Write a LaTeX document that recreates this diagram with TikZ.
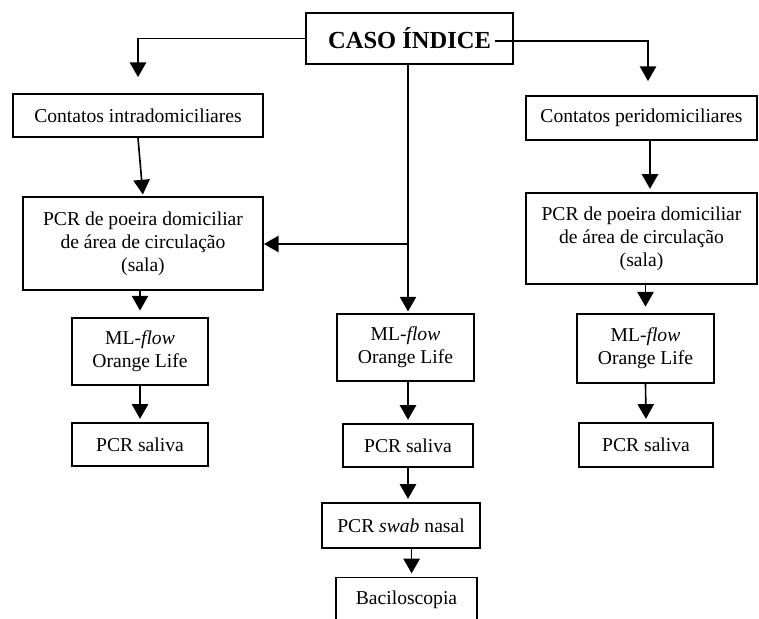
\documentclass[tikz,border=0pt]{standalone}
\usepackage{fontspec}
\setmainfont{Liberation Serif}
\usetikzlibrary{arrows.meta}

\tikzset{
  caixa/.style 2 args={draw, line width=1.1pt, align=center, inner sep=0pt,
    minimum width=#1, minimum height=#2, font=\fontsize{12}{14}\selectfont},
  seta/.style={line width=1pt, -{Triangle[width=10pt,length=9pt]}},
}

\begin{document}
\begin{tikzpicture}[x=0.612pt, y=-0.612pt]
\useasboundingbox (0,0) rectangle (759,619);
\clip (0,0) rectangle (759,619);

\node[caixa={126.7pt}{31.2pt}, font=\fontsize{15}{17}\selectfont\bfseries] (caso) at (409.5,38.5) {CASO ÍNDICE};

% intradomiciliares
\node[caixa={153pt}{26.3pt}] (intra) at (138,115.5) {Contatos intradomiciliares};
\node[caixa={146.9pt}{56.9pt}] (poeiraL) at (143,243.5) {PCR de poeira domiciliar\\de área de circulação\\(sala)};
\node[caixa={83.2pt}{41pt}] (mlL) at (140,351.5) {ML-\textit{flow}\\Orange Life};
\node[caixa={83.2pt}{26.3pt}] (salivaL) at (140,444.5) {PCR saliva};

% peridomiciliares
\node[caixa={141.4pt}{26.9pt}] (peri) at (641.5,118) {Contatos peridomiciliares};
\node[caixa={141.4pt}{55.7pt}] (poeiraR) at (641.5,238.5) {PCR de poeira domiciliar\\de área de circulação\\(sala)};
\node[caixa={83.8pt}{42.2pt}] (mlR) at (645.5,348.5) {ML-\textit{flow}\\Orange Life};
\node[caixa={82pt}{26.9pt}] (salivaR) at (646,445) {PCR saliva};

% caso indice
\node[caixa={83.8pt}{41pt}] (mlC) at (405.5,347.5) {ML-\textit{flow}\\Orange Life};
\node[caixa={79.6pt}{26.3pt}] (salivaC) at (408,445.5) {PCR saliva};
\node[caixa={96.7pt}{27.5pt}] (swab) at (401,525.5) {PCR \textit{swab} nasal};
\node[caixa={86.3pt}{27.5pt}] (bacilo) at (406.5,600) {Baciloscopia};

\coordinate (casoFim) at (495,41);
\coordinate (junta) at (408,244);

\draw[seta, shorten >=9.8pt] (caso.west) -| (intra.north);
\draw[seta, shorten >=8.6pt] (casoFim) -| ([xshift=4pt]peri.north);
\draw[line width=1pt] (caso.south -| junta) -- (junta);
\draw[seta] (junta) -- (junta -| poeiraL.east);
\draw[seta, shorten >=1pt] (junta) -- (junta |- mlC.north);

\draw[seta, shorten >=1pt] (intra.south) -- (poeiraL.north);
\draw[seta, shorten >=4pt] (poeiraL.south -| mlL.north) -- (mlL.north);
\draw[seta, shorten >=2pt] (mlL.south) -- (salivaL.north);

\draw[seta, shorten >=2pt] ([xshift=5.2pt]peri.south) -- ([xshift=5.2pt]poeiraR.north);
\draw[seta, shorten >=4pt] (poeiraR.south -| mlR.north) -- (mlR.north);
\draw[seta, shorten >=2pt] (mlR.south) -- (salivaR.north);

\draw[seta, shorten >=2pt] (mlC.south -| salivaC.north) -- (salivaC.north);
\draw[seta, shorten >=2pt] (salivaC.south) -- (salivaC.south |- swab.north);
\draw[seta, shorten >=2pt] ([xshift=6.5pt]swab.south) -- ([xshift=6.5pt]swab.south |- bacilo.north);
\end{tikzpicture}
\end{document}
